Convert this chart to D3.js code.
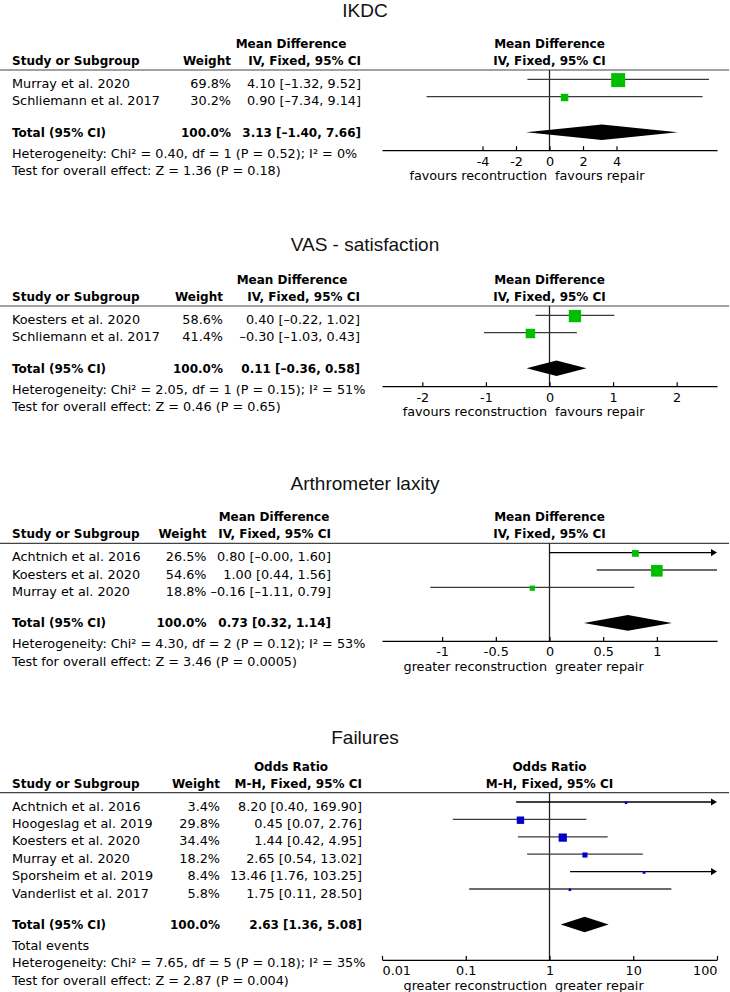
<!DOCTYPE html>
<html>
<head>
<meta charset="utf-8">
<script src="https://cdn.jsdelivr.net/npm/d3@7"></script>
<style>
  body { margin: 0; background: #ffffff; }
  svg { display: block; }
</style>
</head>
<body>
<svg id="chart" width="730" height="992"></svg>
<script>
// ---------------- DATA ----------------
// IKDC
const ikdcStudies = ["Murray et al. 2020", "Schliemann et al. 2017"];
const ikdcWeights = [69.8, 30.2];
const ikdcEst = [4.10, 0.90];
const ikdcLo = [-1.32, -7.34];
const ikdcHi = [9.52, 9.14];
const ikdcTotal = [3.13, -1.40, 7.66];
const ikdcNotes = ["Heterogeneity: Chi² = 0.40, df = 1 (P = 0.52); I² = 0%",
                   "Test for overall effect: Z = 1.36 (P = 0.18)"];
const ikdcTicks = [-4, -2, 0, 2, 4];
const ikdcTickLabels = ["-4", "-2", "0", "2", "4"];
const ikdcFavours = ["favours recontruction", "favours repair"];

// VAS - satisfaction
const vasStudies = ["Koesters et al. 2020", "Schliemann et al. 2017"];
const vasWeights = [58.6, 41.4];
const vasEst = [0.40, -0.30];
const vasLo = [-0.22, -1.03];
const vasHi = [1.02, 0.43];
const vasTotal = [0.11, -0.36, 0.58];
const vasNotes = ["Heterogeneity: Chi² = 2.05, df = 1 (P = 0.15); I² = 51%",
                  "Test for overall effect: Z = 0.46 (P = 0.65)"];
const vasTicks = [-2, -1, 0, 1, 2];
const vasTickLabels = ["-2", "-1", "0", "1", "2"];
const vasFavours = ["favours reconstruction", "favours repair"];

// Arthrometer laxity
const arthStudies = ["Achtnich et al. 2016", "Koesters et al. 2020", "Murray et al. 2020"];
const arthWeights = [26.5, 54.6, 18.8];
const arthEst = [0.80, 1.00, -0.16];
const arthLo = [-0.00, 0.44, -1.11];
const arthHi = [1.60, 1.56, 0.79];
const arthTotal = [0.73, 0.32, 1.14];
const arthNotes = ["Heterogeneity: Chi² = 4.30, df = 2 (P = 0.12); I² = 53%",
                   "Test for overall effect: Z = 3.46 (P = 0.0005)"];
const arthTicks = [-1, -0.5, 0, 0.5, 1];
const arthTickLabels = ["-1", "-0.5", "0", "0.5", "1"];
const arthFavours = ["greater reconstruction", "greater repair"];

// Failures
const failStudies = ["Achtnich et al. 2016", "Hoogeslag et al. 2019", "Koesters et al. 2020",
                     "Murray et al. 2020", "Sporsheim et al. 2019", "Vanderlist et al. 2017"];
const failWeights = [3.4, 29.8, 34.4, 18.2, 8.4, 5.8];
const failEst = [8.20, 0.45, 1.44, 2.65, 13.46, 1.75];
const failLo = [0.40, 0.07, 0.42, 0.54, 1.76, 0.11];
const failHi = [169.90, 2.76, 4.95, 13.02, 103.25, 28.50];
const failTotal = [2.63, 1.36, 5.08];
const failNotes = ["Total events",
                   "Heterogeneity: Chi² = 7.65, df = 5 (P = 0.18); I² = 35%",
                   "Test for overall effect: Z = 2.87 (P = 0.004)"];
const failTicks = [0.01, 0.1, 1, 10, 100];
const failTickLabels = ["0.01", "0.1", "1", "10", "100"];
const failFavours = ["greater reconstruction", "greater repair"];

// ---------------- PANELS ----------------
const panels = [
  { title: "IKDC", measure: ["Mean Difference", "IV, Fixed, 95% CI"], studies: ikdcStudies,
    weights: ikdcWeights, est: ikdcEst, lo: ikdcLo, hi: ikdcHi, total: ikdcTotal, notes: ikdcNotes,
    ticks: ikdcTicks, tickLabels: ikdcTickLabels, favours: ikdcFavours, log: false },
  { title: "VAS - satisfaction", measure: ["Mean Difference", "IV, Fixed, 95% CI"], studies: vasStudies,
    weights: vasWeights, est: vasEst, lo: vasLo, hi: vasHi, total: vasTotal, notes: vasNotes,
    ticks: vasTicks, tickLabels: vasTickLabels, favours: vasFavours, log: false },
  { title: "Arthrometer laxity", measure: ["Mean Difference", "IV, Fixed, 95% CI"], studies: arthStudies,
    weights: arthWeights, est: arthEst, lo: arthLo, hi: arthHi, total: arthTotal, notes: arthNotes,
    ticks: arthTicks, tickLabels: arthTickLabels, favours: arthFavours, log: false },
  { title: "Failures", measure: ["Odds Ratio", "M-H, Fixed, 95% CI"], studies: failStudies,
    weights: failWeights, est: failEst, lo: failLo, hi: failHi, total: failTotal, notes: failNotes,
    ticks: failTicks, tickLabels: failTickLabels, favours: failFavours, log: true }
];

// ---------------- LAYOUT / STYLE ----------------
const layouts = [
  { titleY: 16.5, H: 70,    wRight: 231,   ciRight: 361, hdrCenter: 291, domain: [-10, 10],       colour: "#00bf00" },
  { titleY: 250.5, H: 306,  wRight: 223,   ciRight: 360, hdrCenter: 292, domain: [-2.634, 2.634], colour: "#00bf00" },
  { titleY: 490, H: 543.3,  wRight: 206.5, ciRight: 331, hdrCenter: 274, domain: [-1.56, 1.56],   colour: "#00bf00" },
  { titleY: 744, H: 792.7,  wRight: 220,   ciRight: 362, hdrCenter: 291, domain: [0.01, 100],     colour: "#0000c8" }
];
const X0 = 382, X1 = 717, CX = 549.5;
const FONT = "DejaVu Sans";
const REG = 12.8, BOLD = 12;
const ROW0 = 9.3, ROWSTEP = 17.4;
const TEXT = "#000";
const sizeScale = d3.scalePow().exponent(0.75).domain([0, 100]).range([0, 18.3]);

const DASH = "\u2013";
const fmt2 = v => ((v < 0 || Object.is(v, -0)) ? DASH : "") + d3.format(".2f")(Math.abs(v));
const fmtW = v => d3.format(".1f")(v) + "%";
const ciText = (e, l, h) => `${fmt2(e)} [${fmt2(l)}, ${fmt2(h)}]`;

const svg = d3.select("#chart");
svg.append("rect").attr("width", 730).attr("height", 992).attr("fill", "#fff");

function txt(g, x, y, s, opts = {}) {
  return g.append("text")
    .attr("x", x).attr("y", y)
    .attr("font-family", opts.family || FONT)
    .attr("font-size", opts.size || REG)
    .attr("font-weight", opts.bold ? "bold" : "normal")
    .attr("text-anchor", opts.anchor || "start")
    .attr("fill", opts.fill || TEXT)
    .text(s);
}

panels.forEach((p, k) => {
  const L = layouts[k];
  const g = svg.append("g");
  const H = L.H;
  const x = (p.log ? d3.scaleLog() : d3.scaleLinear()).domain(L.domain).range([X0, X1]);
  const [dMin, dMax] = L.domain;

  // title
  txt(g, 365, L.titleY, p.title, { family: "Liberation Sans", size: 19, anchor: "middle", fill: "#111" });

  // header
  txt(g, 12, H - 5, "Study or Subgroup", { bold: true, size: BOLD });
  txt(g, L.wRight, H - 5, "Weight", { bold: true, size: BOLD, anchor: "end" });
  txt(g, L.hdrCenter, H - 22, p.measure[0], { bold: true, size: BOLD, anchor: "middle" });
  txt(g, L.ciRight, H - 5, p.measure[1], { bold: true, size: BOLD, anchor: "end" });
  txt(g, CX, H - 22, p.measure[0], { bold: true, size: BOLD, anchor: "middle" });
  txt(g, CX, H - 5, p.measure[1], { bold: true, size: BOLD, anchor: "middle" });
  g.append("line").attr("x1", 0).attr("x2", 729).attr("y1", H).attr("y2", H)
    .attr("stroke", "#444").attr("stroke-width", 1.2);

  const rowY = i => H + ROW0 + i * ROWSTEP;
  const nRows = p.studies.length;
  const totY = rowY(nRows - 1) + 35.5;
  const totBase = totY + 4.3;
  const noteBase = j => totBase + 21 + j * 17.4;
  const hetIdx = p.notes.findIndex(s => s.startsWith("Heterogeneity"));
  const axisY = noteBase(hetIdx) - 7.3;
  const ref = p.log ? 1 : 0;

  // reference line
  g.append("line").attr("x1", x(ref)).attr("x2", x(ref)).attr("y1", H).attr("y2", axisY)
    .attr("stroke", "#222").attr("stroke-width", 1.3);

  // study rows
  p.studies.forEach((s, i) => {
    const y = rowY(i);
    txt(g, 12, y + 8.5, s);
    txt(g, L.wRight, y + 8.5, fmtW(p.weights[i]), { anchor: "end" });
    txt(g, L.ciRight, y + 8.5, ciText(p.est[i], p.lo[i], p.hi[i]), { anchor: "end" });

    const overR = p.hi[i] > dMax + 1e-9, overL = p.lo[i] < dMin - 1e-9;
    const xa = overL ? X0 : x(p.lo[i]);
    const xb = overR ? X1 : x(p.hi[i]);
    const arrow = overR || overL;
    g.append("line").attr("x1", xa).attr("x2", overR ? xb - 3 : xb).attr("y1", y).attr("y2", y)
      .attr("stroke", arrow ? "#000" : "#3a3a3a").attr("stroke-width", 1.3);
    if (overR) {
      g.append("path").attr("d", d3.line()([[X1, y], [X1 - 6, y - 3.6], [X1 - 6, y + 3.6]]) + "Z")
        .attr("fill", "#000");
    }
    if (overL) {
      g.append("path").attr("d", d3.line()([[X0, y], [X0 + 6, y - 3.6], [X0 + 6, y + 3.6]]) + "Z")
        .attr("fill", "#000");
    }
    const side = Math.max(2.5, sizeScale(p.weights[i]));
    g.append("rect")
      .attr("x", x(p.est[i]) - side / 2).attr("y", y - side / 2 + 0.8)
      .attr("width", side).attr("height", side)
      .attr("fill", L.colour);
  });

  // total row
  txt(g, 12, totBase, "Total (95% CI)", { bold: true, size: BOLD });
  txt(g, L.wRight, totBase, fmtW(100), { bold: true, size: BOLD, anchor: "end" });
  txt(g, L.ciRight, totBase, ciText(p.total[0], p.total[1], p.total[2]), { bold: true, size: BOLD, anchor: "end" });
  g.append("path")
    .attr("d", d3.line()([[x(p.total[1]), totY], [x(p.total[0]), totY - 7.8],
                          [x(p.total[2]), totY], [x(p.total[0]), totY + 7.8]]) + "Z")
    .attr("fill", "#000");

  // notes
  p.notes.forEach((s, j) => txt(g, 12, noteBase(j), s));

  // axis
  const axis = d3.axisBottom(x).tickValues(p.ticks)
    .tickFormat((d, i) => p.tickLabels[i])
    .tickSizeInner(-4).tickSizeOuter(0).tickPadding(6.4);
  const ag = g.append("g").attr("transform", `translate(0,${axisY})`).call(axis);
  ag.select(".domain").attr("stroke", "#000").attr("stroke-width", 1.2);
  ag.selectAll(".tick line").attr("stroke", "#000").attr("stroke-width", 1.2);
  ag.selectAll(".tick text").attr("font-family", FONT).attr("font-size", REG).attr("fill", TEXT);
  // labels at the very ends of the axis are kept inside it
  ag.selectAll(".tick text").attr("text-anchor", d =>
    Math.abs(x(d) - X0) < 1 ? "start" : (Math.abs(x(d) - X1) < 1 ? "end" : "middle"));

  // favours labels
  txt(g, CX - 2.5, axisY + 30, p.favours[0], { anchor: "end" });
  txt(g, CX + 5.5, axisY + 30, p.favours[1], { anchor: "start" });
});
</script>
</body>
</html>
